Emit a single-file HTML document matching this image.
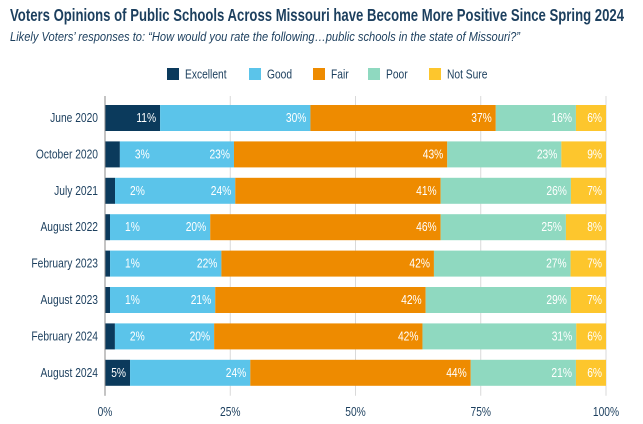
<!DOCTYPE html>
<html><head><meta charset="utf-8"><style>
body{margin:0;width:643px;height:424px;background:#fff;overflow:hidden;font-family:"Liberation Sans",sans-serif;}
</style></head><body>
<svg id="chart" width="643" height="424" style="position:absolute;left:0;top:0">
<text x="10" y="21" font-size="17.5" font-weight="bold" fill="#1c3f5e" textLength="614" lengthAdjust="spacingAndGlyphs">Voters Opinions of Public Schools Across Missouri have Become More Positive Since Spring 2024</text>
<text x="10" y="41" font-size="12.5" font-style="italic" fill="#1c3f5e" textLength="510" lengthAdjust="spacingAndGlyphs">Likely Voters’ responses to: “How would you rate the following…public schools in the state of Missouri?”</text>
<g id="grid"></g>
<g id="bars"></g>
<g id="labels"></g>
<g id="axes"></g>
<g id="legend"></g>
</svg>
<script>
const categories=["June 2020","October 2020","July 2021","August 2022","February 2023","August 2023","February 2024","August 2024"];
const seriesNames=["Excellent","Good","Fair","Poor","Not Sure"];
const excellent=[11,3,2,1,1,1,2,5];
const good=[30,23,24,20,22,21,20,24];
const fair=[37,43,41,46,42,42,42,44];
const poor=[16,23,26,25,27,29,31,21];
const notSure=[6,9,7,8,7,7,6,6];
const ticks=[0,25,50,75,100];
const series=[excellent,good,fair,poor,notSure];
const colors=["#0b3a5c","#5bc4ea","#ee8b00","#8fd9c0","#fdc62d"];
const NS="http://www.w3.org/2000/svg";
const x0=105,x1=606,yTop=96,step=36.4,barH=26,SX=0.82;
const xs=v=>x0+(x1-x0)*v/100;
const yc=i=>yTop+22+i*step;
function mk(t,a,p){const e=document.createElementNS(NS,t);for(const k in a)e.setAttribute(k,a[k]);p.appendChild(e);return e;}
function txt(p,x,y,anchor,size,fill,s){const e=mk('text',{x:0,y:0,'text-anchor':anchor,'font-size':size,fill:fill,transform:`translate(${x},${y}) scale(${SX},1)`},p);e.textContent=s;return e;}
const grid=document.getElementById('grid'),bars=document.getElementById('bars'),labels=document.getElementById('labels'),axes=document.getElementById('axes'),legend=document.getElementById('legend');
const yBot=yc(categories.length-1)+barH/2+10;
ticks.forEach(t=>{
 const l=mk('line',{x1:xs(t),x2:xs(t),y1:yTop,y2:yBot,stroke:'#d9d9d9','stroke-width':1},grid);
 
 
 const tx=txt(axes,xs(t),yBot+20,'middle',12.5,'#1c3f5e',t+'%');
 
 
});
const ax=mk('line',{x1:x0,x2:x0,y1:yTop,y2:yBot,stroke:'#888','stroke-width':1},axes);


categories.forEach((c,i)=>{
 const tx=txt(axes,x0-7,yc(i)+4,'end',12.5,'#1c3f5e',c);
 
 
 const total=series.reduce((s,a)=>s+a[i],0);
 let acc=0;
 series.forEach((s,k)=>{
  const v=s[i];const a=xs(acc*100/total),b=xs((acc+v)*100/total);acc+=v;
  const r=mk('rect',{x:a,y:yc(i)-barH/2,width:b-a,height:barH,fill:colors[k]},bars);
  
  
  const w=b-a,small=w<20;
  const t=txt(labels,small?b+15:b-4,yc(i)+4,small?'start':'end',12.5,'#fff',v+'%');
  
  
 });
});
const lx=[167,249,313,368,429];
seriesNames.forEach((n,k)=>{
 const r=mk('rect',{x:lx[k],y:68,width:12,height:12,fill:colors[k]},legend);
 
 
 const t=txt(legend,lx[k]+18,78.5,'start',12.5,'#1c3f5e',n);
 
 
});
</script>
</body></html>
